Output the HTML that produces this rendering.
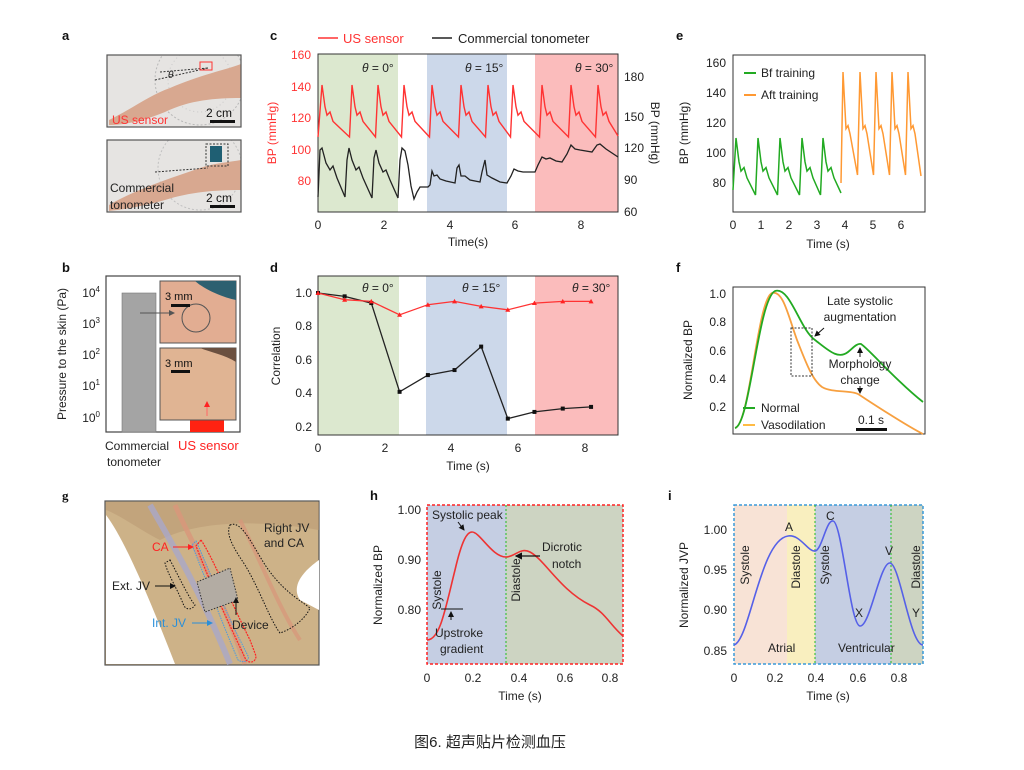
<!DOCTYPE html>
<html><head><meta charset="utf-8">
<style>
html,body{margin:0;padding:0;background:#fff;}
svg{display:block;font-family:"Liberation Sans","Noto Sans CJK SC",sans-serif;}
.t{font-size:12px;fill:#222;}
.lb{font-size:13px;font-weight:bold;fill:#111;}
</style></head><body>
<svg id="s" width="1024" height="770" viewBox="0 0 1024 770" xmlns="http://www.w3.org/2000/svg">
<defs>
<marker id="ar" markerWidth="6" markerHeight="6" refX="5" refY="3" orient="auto"><path d="M0,0 L6,3 L0,6 z" fill="#111"/></marker>
<marker id="arr" markerWidth="6" markerHeight="6" refX="5" refY="3" orient="auto"><path d="M0,0 L6,3 L0,6 z" fill="#f22"/></marker>
<marker id="arb" markerWidth="6" markerHeight="6" refX="5" refY="3" orient="auto"><path d="M0,0 L6,3 L0,6 z" fill="#2a8fd8"/></marker>
<marker id="arg" markerWidth="6" markerHeight="6" refX="5" refY="3" orient="auto"><path d="M0,0 L6,3 L0,6 z" fill="#555"/></marker>
<clipPath id="ca1"><rect x="107" y="55" width="134" height="72"/></clipPath>
<clipPath id="ca2"><rect x="107" y="140" width="134" height="72"/></clipPath>
</defs>

<!-- panel labels -->
<text class="lb" x="62" y="40">a</text>
<text class="lb" x="62" y="272">b</text>
<text class="lb" x="270" y="40">c</text>
<text class="lb" x="270" y="272">d</text>
<text class="lb" x="676" y="40">e</text>
<text class="lb" x="676" y="272">f</text>
<text class="lb" x="62" y="500" style="font-family:'Liberation Serif',serif">g</text>
<text class="lb" x="370" y="500">h</text>
<text class="lb" x="668" y="500">i</text>

<!-- ===== panel a ===== -->
<rect x="107" y="55" width="134" height="72" fill="#e6e4e2"/>
<g clip-path="url(#ca1)">
<circle cx="200" cy="80" r="45" fill="none" stroke="#b8b8b8" stroke-width="1" stroke-dasharray="2,2"/>
<circle cx="200" cy="80" r="32" fill="none" stroke="#c8c8c8" stroke-width="1" stroke-dasharray="1,3"/>
<path d="M109,120 C130,110 150,95 170,88 C200,75 225,70 241,64 L241,98 C215,98 190,100 165,112 C150,118 130,125 109,125 z" fill="#d8a890"/>
</g>
<rect x="107" y="55" width="134" height="72" fill="none" stroke="#555" stroke-width="1.2"/>
<path d="M155,80 L208,68 M160,72 L208,68" stroke="#333" stroke-width="1" stroke-dasharray="2,1.5"/>
<rect x="200" y="62" width="12" height="8" fill="none" stroke="#f33" stroke-width="1"/>
<text x="112" y="124" font-size="12" fill="#f33">US sensor</text>
<text x="206" y="117" font-size="12" fill="#111">2 cm</text>
<rect x="210" y="120" width="25" height="3" fill="#111"/>
<text x="168" y="78" font-size="10" font-style="italic" fill="#222">θ</text>

<rect x="107" y="140" width="134" height="72" fill="#e6e4e2"/>
<g clip-path="url(#ca2)">
<circle cx="200" cy="168" r="42" fill="none" stroke="#c0c0c0" stroke-width="1" stroke-dasharray="2,2"/>
<path d="M109,205 C135,190 165,180 200,168 C215,163 230,162 241,160 L241,190 C215,190 190,192 165,200 C140,207 120,210 109,211 z" fill="#d8a890"/>
</g>
<rect x="107" y="140" width="134" height="72" fill="none" stroke="#555" stroke-width="1.2"/>
<rect x="210" y="146" width="12" height="16" fill="#1f5f73"/>
<rect x="206" y="144" width="22" height="22" fill="none" stroke="#333" stroke-dasharray="2,1.5"/>
<path d="M155,172 L208,168" stroke="#333" stroke-dasharray="2,1.5"/>
<text x="110" y="192" font-size="12" fill="#222">Commercial</text>
<text x="110" y="209" font-size="12" fill="#222">tonometer</text>
<text x="206" y="202" font-size="12" fill="#111">2 cm</text>
<rect x="210" y="205" width="25" height="3" fill="#111"/>

<!-- ===== panel b ===== -->
<rect x="106" y="276" width="134" height="156" fill="#fff" stroke="#444" stroke-width="1.2"/>
<rect x="122" y="293" width="34" height="139" fill="#a4a4a4" stroke="#777" stroke-width="0.6"/>
<rect x="190" y="417" width="34" height="15" fill="#f21"/>
<rect x="160" y="281" width="76" height="62" fill="#e2ad92" stroke="#555"/>
<path d="M195,281 L236,281 L236,300 C225,298 205,290 195,281z" fill="#2d6070"/>
<circle cx="196" cy="318" r="14" fill="none" stroke="#555" stroke-width="1"/>
<text x="165" y="300" font-size="11" fill="#111">3 mm</text>
<rect x="171" y="304" width="19" height="3" fill="#111"/>
<line x1="140" y1="313" x2="174" y2="313" stroke="#555" marker-end="url(#arg)"/>
<rect x="160" y="348" width="76" height="72" fill="#e0b493" stroke="#555"/>
<path d="M200,348 C210,352 225,355 236,362 L236,348z" fill="#6b5040"/>
<text x="165" y="367" font-size="11" fill="#111">3 mm</text>
<rect x="171" y="370" width="19" height="3" fill="#111"/>
<line x1="207" y1="416" x2="207" y2="402" stroke="#f66" marker-end="url(#arr)"/>
<g class="t" text-anchor="end">
<text x="100" y="297">10<tspan font-size="8" dy="-5">4</tspan></text>
<text x="100" y="328">10<tspan font-size="8" dy="-5">3</tspan></text>
<text x="100" y="359">10<tspan font-size="8" dy="-5">2</tspan></text>
<text x="100" y="390">10<tspan font-size="8" dy="-5">1</tspan></text>
<text x="100" y="422">10<tspan font-size="8" dy="-5">0</tspan></text>
</g>
<text class="t" transform="translate(66,354) rotate(-90)" text-anchor="middle">Pressure to the skin (Pa)</text>
<text class="t" x="105" y="450" font-size="13">Commercial</text>
<text class="t" x="107" y="466" font-size="13">tonometer</text>
<text x="178" y="450" font-size="13" fill="#f22">US sensor</text>

<!-- ===== panel c ===== -->
<rect x="318" y="54" width="80" height="158" fill="#dce8cf"/>
<rect x="427" y="54" width="80" height="158" fill="#ccd8ea"/>
<rect x="535" y="54" width="83" height="158" fill="#fbbcbc"/>
<rect x="318" y="54" width="300" height="158" fill="none" stroke="#333" stroke-width="1"/>
<g id="ctr"></g>
<text x="362" y="72" class="t" font-size="13"><tspan font-style="italic">θ</tspan> = 0°</text>
<text x="465" y="72" class="t" font-size="13"><tspan font-style="italic">θ</tspan> = 15°</text>
<text x="575" y="72" class="t" font-size="13"><tspan font-style="italic">θ</tspan> = 30°</text>
<line x1="318" y1="38" x2="338" y2="38" stroke="#f33" stroke-width="1.5"/>
<text x="343" y="43" font-size="13" fill="#f33">US sensor</text>
<line x1="432" y1="38" x2="452" y2="38" stroke="#222" stroke-width="1.5"/>
<text x="458" y="43" font-size="13" fill="#222">Commercial tonometer</text>
<g font-size="12" fill="#f33" text-anchor="end">
<text x="311" y="59">160</text><text x="311" y="91">140</text><text x="311" y="122">120</text><text x="311" y="154">100</text><text x="311" y="185">80</text>
</g>
<text transform="translate(276,133) rotate(-90)" text-anchor="middle" font-size="12" fill="#f33">BP (mmHg)</text>
<g class="t">
<text x="624" y="81">180</text><text x="624" y="121">150</text><text x="624" y="152">120</text><text x="624" y="184">90</text><text x="624" y="216">60</text>
</g>
<text class="t" transform="translate(651,133) rotate(90)" text-anchor="middle">BP (mmHg)</text>
<g class="t" text-anchor="middle">
<text x="318" y="229">0</text><text x="384" y="229">2</text><text x="450" y="229">4</text><text x="515" y="229">6</text><text x="581" y="229">8</text>
<text x="468" y="246">Time(s)</text>
</g>

<!-- ===== panel d ===== -->
<rect x="318" y="276" width="81" height="159" fill="#dce8cf"/>
<rect x="426" y="276" width="81" height="159" fill="#ccd8ea"/>
<rect x="535" y="276" width="83" height="159" fill="#fbbcbc"/>
<rect x="318" y="276" width="300" height="159" fill="none" stroke="#333"/>
<g id="dtr"></g>
<text x="362" y="292" class="t" font-size="13"><tspan font-style="italic">θ</tspan> = 0°</text>
<text x="462" y="292" class="t" font-size="13"><tspan font-style="italic">θ</tspan> = 15°</text>
<text x="572" y="292" class="t" font-size="13"><tspan font-style="italic">θ</tspan> = 30°</text>
<g class="t" text-anchor="end">
<text x="312" y="297">1.0</text><text x="312" y="330">0.8</text><text x="312" y="364">0.6</text><text x="312" y="397">0.4</text><text x="312" y="431">0.2</text>
</g>
<text class="t" transform="translate(280,356) rotate(-90)" text-anchor="middle">Correlation</text>
<g class="t" text-anchor="middle">
<text x="318" y="452">0</text><text x="385" y="452">2</text><text x="451" y="452">4</text><text x="518" y="452">6</text><text x="585" y="452">8</text>
<text x="468" y="470">Time (s)</text>
</g>

<!-- ===== panel e ===== -->
<rect x="733" y="55" width="192" height="157" fill="#fff" stroke="#333"/>
<g id="etr"></g>
<line x1="744" y1="73" x2="756" y2="73" stroke="#2a2" stroke-width="2"/>
<text class="t" x="761" y="77">Bf training</text>
<line x1="744" y1="95" x2="756" y2="95" stroke="#f93" stroke-width="2"/>
<text class="t" x="761" y="99">Aft training</text>
<g class="t" text-anchor="end">
<text x="726" y="67">160</text><text x="726" y="97">140</text><text x="726" y="127">120</text><text x="726" y="157">100</text><text x="726" y="187">80</text>
</g>
<text class="t" transform="translate(688,133) rotate(-90)" text-anchor="middle">BP (mmHg)</text>
<g class="t" text-anchor="middle">
<text x="733" y="229">0</text><text x="761" y="229">1</text><text x="789" y="229">2</text><text x="817" y="229">3</text><text x="845" y="229">4</text><text x="873" y="229">5</text><text x="901" y="229">6</text>
<text x="828" y="248">Time (s)</text>
</g>

<!-- ===== panel f ===== -->
<rect x="733" y="287" width="192" height="147" fill="#fff" stroke="#333"/>
<path d="M735,428 C750,425 757,300 772,293 C783,290 788,315 797,340 C805,360 812,380 822,387 C832,393 850,390 858,394 C875,405 905,425 923,434" fill="none" stroke="#f7a040" stroke-width="1.8"/>
<path d="M735,428 C750,425 758,300 775,291 C790,286 800,330 815,340 C828,350 838,360 848,352 C853,348 857,343 861,344 C870,350 895,380 923,402" fill="none" stroke="#2a2" stroke-width="1.8"/>
<rect x="791" y="328" width="21" height="48" fill="none" stroke="#333" stroke-dasharray="2,1.5"/>
<text class="t" x="860" y="305" text-anchor="middle">Late systolic</text>
<text class="t" x="860" y="321" text-anchor="middle">augmentation</text>
<line x1="824" y1="328" x2="815" y2="336" stroke="#111" marker-end="url(#ar)"/>
<text class="t" x="860" y="368" text-anchor="middle">Morphology</text>
<text class="t" x="860" y="384" text-anchor="middle">change</text>
<line x1="860" y1="357" x2="860" y2="348" stroke="#111" marker-end="url(#ar)"/>
<line x1="860" y1="386" x2="860" y2="393" stroke="#111" marker-end="url(#ar)"/>
<line x1="743" y1="408" x2="755" y2="408" stroke="#2a2" stroke-width="2"/>
<text class="t" x="761" y="412">Normal</text>
<line x1="743" y1="425" x2="755" y2="425" stroke="#fb4" stroke-width="2"/>
<text class="t" x="761" y="429">Vasodilation</text>
<text class="t" x="858" y="424">0.1 s</text>
<rect x="856" y="428" width="31" height="3" fill="#111"/>
<g class="t" text-anchor="end">
<text x="726" y="298">1.0</text><text x="726" y="326">0.8</text><text x="726" y="355">0.6</text><text x="726" y="383">0.4</text><text x="726" y="411">0.2</text>
</g>
<text class="t" transform="translate(692,360) rotate(-90)" text-anchor="middle">Normalized BP</text>

<!-- ===== panel g ===== -->
<rect x="105" y="501" width="214" height="164" fill="#cdb288" stroke="#555" stroke-width="1.2"/>
<path d="M106,515 C125,540 150,600 175,664 L106,664z" fill="#fff"/>
<path d="M319,560 C305,570 290,585 300,600 L319,610z" fill="#fff"/>
<path d="M106,502 L319,502 L319,530 C260,520 200,520 160,540 C140,530 120,515 106,510z" fill="#b89570" opacity="0.5"/>
<path d="M150,505 C170,540 200,590 230,664" fill="none" stroke="#a9a7c9" stroke-width="6" opacity="0.8"/>
<path d="M175,505 C190,540 220,590 245,664" fill="none" stroke="#d9967a" stroke-width="5" opacity="0.8"/>
<path d="M240,520 C260,560 280,610 300,640" fill="none" stroke="#d9967a" stroke-width="4" opacity="0.7"/>
<path d="M196,541 C205,560 220,600 240,640 L248,656 C250,660 244,664 238,660 C225,630 210,590 192,545z" fill="none" stroke="#4a9ae0" stroke-width="1" stroke-dasharray="1.5,1"/>
<path d="M201,540 C212,556 230,600 250,640 L256,656 C256,662 250,664 246,660 C232,630 215,595 196,546z" fill="none" stroke="#f22" stroke-width="1.2" stroke-dasharray="2,1"/>
<path d="M170,560 C178,575 190,600 195,605 C192,610 187,610 184,606 C178,590 168,575 165,563z" fill="none" stroke="#111" stroke-dasharray="1.5,1.5"/>
<path d="M230,525 C240,520 250,540 262,560 C280,590 300,600 310,608 C305,620 290,630 280,633 C270,620 260,590 245,565 C235,550 225,535 230,525z" fill="none" stroke="#111" stroke-dasharray="1.5,1.5"/>
<path d="M197,582 L230,568 L238,600 L205,612z" fill="#b3aca3" stroke="#333" stroke-dasharray="1.5,1.5"/>
<text x="152" y="551" font-size="12" fill="#f22">CA</text>
<line x1="173" y1="547" x2="193" y2="547" stroke="#f22" marker-end="url(#arr)"/>
<text class="t" x="112" y="590">Ext. JV</text>
<line x1="155" y1="586" x2="175" y2="586" stroke="#111" marker-end="url(#ar)"/>
<text x="152" y="627" font-size="12" fill="#2a8fd8">Int. JV</text>
<line x1="192" y1="623" x2="212" y2="623" stroke="#2a8fd8" marker-end="url(#arb)"/>
<text class="t" x="232" y="629">Device</text>
<line x1="236" y1="615" x2="236" y2="598" stroke="#111" marker-end="url(#ar)"/>
<text class="t" x="264" y="532">Right JV</text>
<text class="t" x="264" y="547">and CA</text>

<!-- ===== panel h ===== -->
<rect x="427" y="505" width="79" height="159" fill="#c5cee3"/>
<rect x="506" y="505" width="117" height="159" fill="#cdd4c2"/>
<rect x="427" y="505" width="196" height="159" fill="none" stroke="#f22" stroke-width="1.5" stroke-dasharray="3,2"/>
<line x1="506" y1="505" x2="506" y2="664" stroke="#2b2" stroke-dasharray="2,2"/>
<path d="M427,640 C440,640 445,610 455,570 C462,540 467,532 472,532 C480,532 492,557 506,557 C515,557 520,547 530,552 C545,560 560,590 590,605 C605,612 610,625 623,636" fill="none" stroke="#e33" stroke-width="1.6"/>
<text class="t" x="432" y="519">Systolic peak</text>
<line x1="458" y1="522" x2="464" y2="530" stroke="#111" marker-end="url(#ar)"/>
<text class="t" transform="translate(441,590) rotate(-90)" text-anchor="middle">Systole</text>
<text class="t" transform="translate(520,580) rotate(-90)" text-anchor="middle">Diastole</text>
<text class="t" x="542" y="551">Dicrotic</text>
<text class="t" x="552" y="568">notch</text>
<line x1="540" y1="556" x2="516" y2="556" stroke="#111" stroke-width="1.2" marker-end="url(#ar)"/>
<line x1="441" y1="609" x2="463" y2="609" stroke="#111"/>
<line x1="451" y1="620" x2="451" y2="612" stroke="#111" marker-end="url(#ar)"/>
<text class="t" x="435" y="637">Upstroke</text>
<text class="t" x="440" y="653">gradient</text>
<g class="t" text-anchor="end">
<text x="421" y="514">1.00</text><text x="421" y="564">0.90</text><text x="421" y="614">0.80</text>
</g>
<text class="t" transform="translate(382,585) rotate(-90)" text-anchor="middle">Normalized BP</text>
<g class="t" text-anchor="middle">
<text x="427" y="682">0</text><text x="473" y="682">0.2</text><text x="519" y="682">0.4</text><text x="565" y="682">0.6</text><text x="610" y="682">0.8</text>
<text x="520" y="700">Time (s)</text>
</g>

<!-- ===== panel i ===== -->
<rect x="734" y="505" width="53" height="159" fill="#f8e3d6"/>
<rect x="787" y="505" width="28" height="159" fill="#f9efbf"/>
<rect x="815" y="505" width="76" height="159" fill="#c5cee3"/>
<rect x="891" y="505" width="32" height="159" fill="#cdd4c2"/>
<rect x="734" y="505" width="189" height="159" fill="none" stroke="#3a9ad8" stroke-width="1.5" stroke-dasharray="3,2"/>
<line x1="815" y1="505" x2="815" y2="664" stroke="#2b2" stroke-dasharray="2,2"/>
<line x1="891" y1="505" x2="891" y2="664" stroke="#2b2" stroke-dasharray="2,2"/>
<path d="M734,645 C750,640 760,540 788,536 C800,534 808,552 815,551 C822,550 826,520 833,521 C842,522 850,625 860,626 C870,627 880,562 890,563 C900,564 910,645 923,645" fill="none" stroke="#5560e8" stroke-width="1.6"/>
<text class="t" transform="translate(749,565) rotate(-90)" text-anchor="middle">Systole</text>
<text class="t" transform="translate(800,567) rotate(-90)" text-anchor="middle">Diastole</text>
<text class="t" transform="translate(829,565) rotate(-90)" text-anchor="middle">Systole</text>
<text class="t" transform="translate(920,567) rotate(-90)" text-anchor="middle">Diastole</text>
<text class="t" x="785" y="531">A</text>
<text class="t" x="826" y="520">C</text>
<text class="t" x="855" y="617">X</text>
<text class="t" x="885" y="555">V</text>
<text class="t" x="912" y="617">Y</text>
<text class="t" x="768" y="652">Atrial</text>
<text class="t" x="838" y="652">Ventricular</text>
<g class="t" text-anchor="end">
<text x="727" y="534">1.00</text><text x="727" y="574">0.95</text><text x="727" y="614">0.90</text><text x="727" y="655">0.85</text>
</g>
<text class="t" transform="translate(688,585) rotate(-90)" text-anchor="middle">Normalized JVP</text>
<g class="t" text-anchor="middle">
<text x="734" y="682">0</text><text x="775" y="682">0.2</text><text x="816" y="682">0.4</text><text x="858" y="682">0.6</text><text x="899" y="682">0.8</text>
<text x="828" y="700">Time (s)</text>
</g>

<!-- caption -->
<text x="490" y="747" text-anchor="middle" font-size="15" fill="#222">图6. 超声贴片检测血压</text>

<!-- static traces -->
<polyline points="318,197 320,150 322,148 326,163 330,170 333,166 337,178 345,197 347,160 349,148 352,160 356,170 359,167 363,178 372,198 374,158 376,150 379,163 383,172 386,170 390,180 398,198 400,160 402,148 405,151 408,165 411,186 414,199 417,192 420,187 428,187 430,185 432,171 434,176 437,175 440,179 446,181 455,183 457,168 459,165 461,176 465,176 470,180 480,182 482,172 485,160 487,175 492,178 500,182 507,183 511,176 514,169 518,171 523,172 535,172 538,165 542,157 546,159 550,158 556,161 562,162 567,154 571,145 575,149 580,150 592,152 597,145 600,144 606,149 612,153 618,157" fill="none" stroke="#222" stroke-width="1.3"/>
</svg>
<script>
(function(){
var NS="http://www.w3.org/2000/svg";
function pl(parent,pts,col,w){var p=document.createElementNS(NS,"polyline");p.setAttribute("points",pts.map(function(a){return a[0].toFixed(1)+","+a[1].toFixed(1)}).join(" "));p.setAttribute("fill","none");p.setAttribute("stroke",col);p.setAttribute("stroke-width",w||1.4);parent.appendChild(p);}
function beats(peaks,py,ty,x0,y0,xend,yend){
 var pts=[[x0,y0]];
 for(var i=0;i<peaks.length;i++){var p=peaks[i],A=ty-py;
  if(i>0)pts.push([p-2.5,ty]);
  pts.push([p,py],[p+3,py+0.42*A],[p+5,py+0.58*A],[p+8,py+0.52*A],[p+11,py+0.7*A]);
 }
 pts.push([xend,yend]);return pts;}
var c=document.getElementById("ctr");
pl(c,beats([322,352,378,404,432,461,488,513,542,571,598],85,137,318,137,618,136),"#f33",1.4);
var e=document.getElementById("etr");
pl(e,beats([736,758,780,802,823],138,195,733,190,841,193),"#2a2",1.5);
function beats2(peaks,py,ty,x0,y0,xend,yend){
 var pts=[[x0,y0]];
 for(var i=0;i<peaks.length;i++){var p=peaks[i],A=ty-py;
  if(i>0)pts.push([p-2.5,ty]);
  pts.push([p,py],[p+3,py+0.55*A],[p+5,py+0.52*A],[p+7,py+0.6*A]);
 }
 pts.push([xend,yend]);return pts;}
pl(e,beats2([843,860,876,892,908],72,175,841,183,921,176),"#f93",1.5);
var d=document.getElementById("dtr");
function dx(t){return 318+t*33.3}function dy(v){return 293+(1-v)*167.5}
var rt=[[0,1],[0.8,0.96],[1.6,0.95],[2.45,0.87],[3.3,0.93],[4.1,0.95],[4.9,0.92],[5.7,0.90],[6.5,0.94],[7.35,0.95],[8.2,0.95]];
var bk=[[0,1],[0.8,0.98],[1.6,0.94],[2.45,0.41],[3.3,0.51],[4.1,0.54],[4.9,0.68],[5.7,0.25],[6.5,0.29],[7.35,0.31],[8.2,0.32]];
pl(d,bk.map(function(a){return[dx(a[0]),dy(a[1])]}),"#222",1.3);
pl(d,rt.map(function(a){return[dx(a[0]),dy(a[1])]}),"#f33",1.3);
bk.forEach(function(a){var r=document.createElementNS(NS,"rect");r.setAttribute("x",dx(a[0])-2);r.setAttribute("y",dy(a[1])-2);r.setAttribute("width",4);r.setAttribute("height",4);r.setAttribute("fill","#111");d.appendChild(r);});
rt.forEach(function(a){var x=dx(a[0]),y=dy(a[1]);var p=document.createElementNS(NS,"path");p.setAttribute("d","M"+x+","+(y-2.5)+" L"+(x+2.5)+","+(y+2)+" L"+(x-2.5)+","+(y+2)+"z");p.setAttribute("fill","#f22");d.appendChild(p);});
})();
</script>
</body></html>
